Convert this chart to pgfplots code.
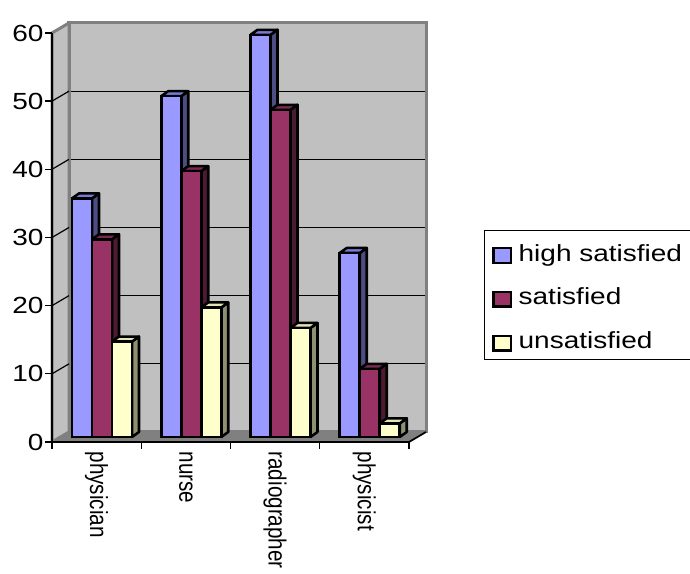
\documentclass[border=0pt]{standalone}
\usepackage{pgfplots}
\pgfplotsset{compat=1.18}
\usepackage{fontspec}
\setmainfont{Liberation Sans}[FakeStretch=1.2]
\newfontfamily\catfont{Liberation Sans}
\definecolor{wallgray}{HTML}{C0C0C0}
\definecolor{edgegray}{HTML}{808080}
\definecolor{floorgray}{HTML}{808080}
\definecolor{bluefront}{HTML}{9999FF}
\definecolor{blueside}{HTML}{4D4D85}
\definecolor{bluetop}{HTML}{7A7AD6}
\definecolor{redfront}{HTML}{993366}
\definecolor{redside}{HTML}{4D1A33}
\definecolor{redtop}{HTML}{7A2952}
\definecolor{yelfront}{HTML}{FFFFCC}
\definecolor{yelside}{HTML}{8F8F72}
\definecolor{yeltop}{HTML}{E3E3B5}
\newcommand{\barlw}{1.9pt}
% side and top faces of one 3-D bar: #1 left edge, #2 value, #3 side colour, #4 top colour
\newcommand{\barfaces}[4]{%
  \pgfmathsetmacro\xa{#1+0.224}%
  \pgfmathsetmacro\xb{#1+0.224+0.0784}%
  \pgfmathsetmacro\xc{#1+0.0784}%
  \pgfmathsetmacro\yt{#2+0.733}%
  \addplot[forget plot, fill=#3, draw=black, line width=\barlw, line join=round]
    coordinates {(\xa,0) (\xb,0.733) (\xb,\yt) (\xa,#2) (\xa,0)};
  \addplot[forget plot, fill=#4, draw=black, line width=\barlw, line join=round]
    coordinates {(#1,#2) (\xc,\yt) (\xb,\yt) (\xa,#2) (#1,#2)};
}
\newcommand{\catlab}[1]{\scalebox{1}[1.2]{#1}}
\pgfplotsset{
  common/.style={anchor=south west, x=66.9375pt, y=5.1128pt,
    xmin=0, xmax=4, ymin=0, ymax=60, clip=false, no markers},
  sqlegend/.style={legend image code/.code={%
    \path (0pt,0pt) (16.8pt,15pt);
    \draw[##1, draw=black, line width=1.8pt] (0.9pt,-5.7pt) rectangle (14.1pt,5.25pt);}},
}
\begin{document}
\begin{tikzpicture}
\useasboundingbox (0,0) rectangle (517.5pt,430.5pt);
% back wall
\begin{axis}[common, at={(51.75pt,106.5pt)},
  axis background/.style={fill=wallgray},
  axis line style={draw=edgegray, line width=2.25pt},
  ymajorgrids, grid style={black, line width=0.9pt},
  ytick={10,20,30,40,50}, yticklabels={}, xtick=\empty, major tick length=0pt]
\addplot[draw=none, forget plot] coordinates {(0,0) (4,60)};
\end{axis}
% front frame: left wall, floor, axes and ticks
\begin{axis}[common, at={(39pt,99pt)}, axis on top,
  axis x line*=bottom, axis y line*=left,
  axis line style={black, line width=1.3pt},
  tick style={black, line width=1pt}, tick align=outside, major tick length=5.25pt,
  ytick={0,10,20,30,40,50,60},
  /pgf/number format/assume math mode=true,
  yticklabel style={font=\fontsize{17.5}{20}\selectfont, inner sep=1pt},
  xtick={0,1,2,3,4}, xticklabels={},
  extra x ticks={0.5,1.5,2.5,3.5},
  extra x tick labels={\catlab{physician},\catlab{nurse},\catlab{radiographer},\catlab{physicist}},
  extra x tick style={major tick length=0pt,
    xticklabel style={rotate=-90, anchor=west, inner sep=0pt,
      font=\catfont\fontsize{15.5}{18}\selectfont}},
  xticklabel shift=7pt]
\addplot[forget plot, fill=wallgray, draw=edgegray, line width=2.25pt, line join=round]
  coordinates {(0,0) (0.1905,1.467) (0.1905,61.467) (0,60) (0,0)};
\addplot[forget plot, black, line width=0.9pt] coordinates {(0,10) (0.1905,11.467)};
\addplot[forget plot, black, line width=0.9pt] coordinates {(0,20) (0.1905,21.467)};
\addplot[forget plot, black, line width=0.9pt] coordinates {(0,30) (0.1905,31.467)};
\addplot[forget plot, black, line width=0.9pt] coordinates {(0,40) (0.1905,41.467)};
\addplot[forget plot, black, line width=0.9pt] coordinates {(0,50) (0.1905,51.467)};
\addplot[forget plot, fill=floorgray, draw=none]
  coordinates {(0,0) (4,0) (4.1905,1.467) (0.1905,1.467) (0,0)};
\addplot[forget plot, black, line width=1.3pt] coordinates {(4,0) (4.1905,1.467)};
\end{axis}
% bars
\begin{axis}[common, at={(45.375pt,102.75pt)}, hide axis,
  legend style={at={(rel axis cs:1.186,0.5062)}, anchor=north west,
    draw=black, line width=0.75pt, font=\fontsize{17.5}{20}\selectfont,
    inner xsep=5pt, inner ysep=2.6pt, row sep=6.8pt,
    nodes={text height=12.5pt, text depth=3.7pt, inner sep=2pt}},
  legend cell align=left]
% high satisfied
\barfaces{0.129}{35}{blueside}{bluetop}
\barfaces{1.129}{50}{blueside}{bluetop}
\barfaces{2.129}{59}{blueside}{bluetop}
\barfaces{3.129}{27}{blueside}{bluetop}
\addplot[ybar, bar width=15pt, bar shift=-17.34pt, fill=bluefront, draw=black, line width=\barlw, sqlegend]
  coordinates {(0.5,35) (1.5,50) (2.5,59) (3.5,27)};
\addlegendentry{high satisfied}
% satisfied
\barfaces{0.353}{29}{redside}{redtop}
\barfaces{1.353}{39}{redside}{redtop}
\barfaces{2.353}{48}{redside}{redtop}
\barfaces{3.353}{10}{redside}{redtop}
\addplot[ybar, bar width=15pt, bar shift=-2.34pt, fill=redfront, draw=black, line width=\barlw, sqlegend]
  coordinates {(0.5,29) (1.5,39) (2.5,48) (3.5,10)};
\addlegendentry{satisfied}
% unsatisfied
\barfaces{0.577}{14}{yelside}{yeltop}
\barfaces{1.577}{19}{yelside}{yeltop}
\barfaces{2.577}{16}{yelside}{yeltop}
\barfaces{3.577}{2}{yelside}{yeltop}
\addplot[ybar, bar width=15pt, bar shift=12.66pt, fill=yelfront, draw=black, line width=\barlw, sqlegend]
  coordinates {(0.5,14) (1.5,19) (2.5,16) (3.5,2)};
\addlegendentry{unsatisfied}
\end{axis}
\end{tikzpicture}
\end{document}
